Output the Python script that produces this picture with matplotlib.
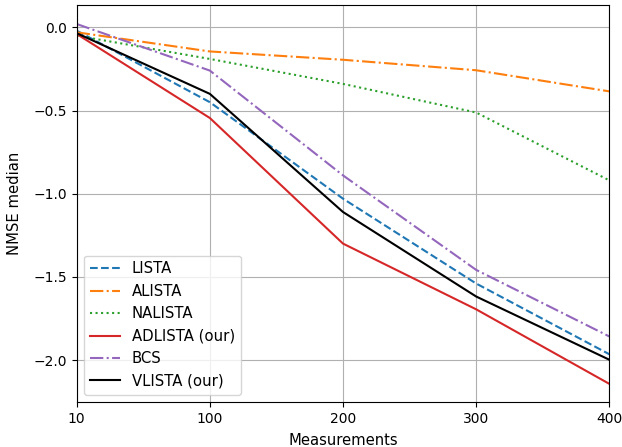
import matplotlib
matplotlib.use("Agg")
import matplotlib.pyplot as plt

measurements = ["10", "100", "200", "300", "400"]
lista = [-0.02, -0.45, -1.03, -1.54, -1.965]
alista = [-0.03, -0.145, -0.195, -0.258, -0.385]
nalista = [-0.05, -0.19, -0.34, -0.512, -0.92]
adlista = [-0.04, -0.545, -1.30, -1.695, -2.143]
bcs = [0.02, -0.26, -0.89, -1.458, -1.858]
vlista = [-0.035, -0.40, -1.11, -1.618, -1.998]

fig = plt.figure(figsize=(6.22, 4.47), dpi=100)
ax = fig.add_axes([0.1233, 0.1007, 0.8563, 0.8873])

ax.plot(measurements, lista, linestyle="--", color="C0", label="LISTA")
ax.plot(measurements, alista, linestyle="-.", color="C1", label="ALISTA")
ax.plot(measurements, nalista, linestyle=":", color="C2", label="NALISTA")
ax.plot(measurements, adlista, linestyle="-", color="C3", label="ADLISTA (our)")
ax.plot(measurements, bcs, linestyle="-.", color="C4", label="BCS")
ax.plot(measurements, vlista, linestyle="-", color="black", label="VLISTA (our)")

ax.set_xlim(0, len(measurements) - 1)
ax.set_ylim(-2.252, 0.132)
ax.grid(True)
ax.set_xlabel("Measurements", fontsize=10.6, labelpad=5.5)
ax.set_ylabel("NMSE median", fontsize=10.6, labelpad=8)
ax.legend(loc="lower left", prop={"size": 10.7})

fig.savefig("out.png", dpi=100)
